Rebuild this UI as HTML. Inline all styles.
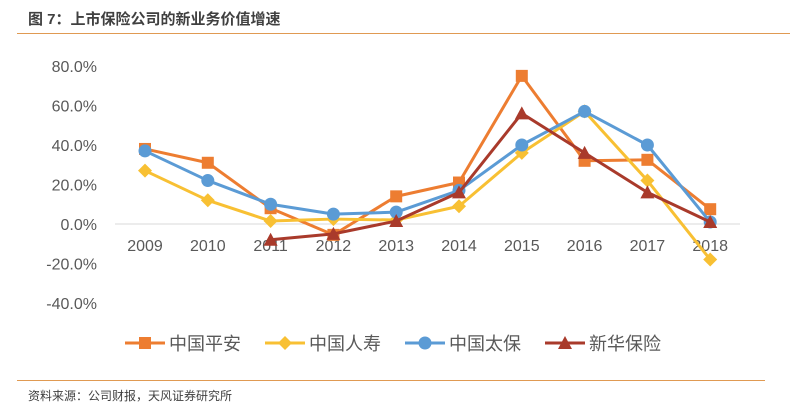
<!DOCTYPE html>
<html><head><meta charset="utf-8"><style>
body{margin:0;width:790px;height:416px;background:#fff;overflow:hidden;font-family:"Liberation Sans","Noto Sans CJK SC",sans-serif}
#title{position:absolute;left:28px;top:8px;font-size:15px;font-weight:bold;color:#404040}
#tline{position:absolute;left:17px;top:33px;width:773px;height:1px;background:#E09A52}
#fline{position:absolute;left:17px;top:380px;width:748px;height:1px;background:#E09A52}
#foot{position:absolute;left:28px;top:387px;font-size:12px;color:#404040}
svg{position:absolute;left:0;top:0}
</style></head><body>
<div id="title">图 7：上市保险公司的新业务价值增速</div>
<div id="tline"></div>
<svg id="chart" width="790" height="416"></svg>
<div id="fline"></div>
<div id="foot">资料来源：公司财报，天风证券研究所</div>
<script>
const years=['2009','2010','2011','2012','2013','2014','2015','2016','2017','2018'];
const yTicks=[80,60,40,20,0,-20,-40];
const pingan=[38,31,8,-5.5,14,21,75,32,32.5,7.5];
const renshou=[27,12,1.5,2.5,2,9,36,57,22,-18];
const taibao=[37,22,10,5,6,17,40,57,40,1];
const xinhua=[null,null,-8,-5,1.5,16,56,36,16,1];
const names=['中国平安','中国人寿','中国太保','新华保险'];
const NS='http://www.w3.org/2000/svg';
const svg=document.getElementById('chart');
const x=i=>145+i*62.8;
const y=v=>224-v*1.975;
function mk(t,a){const e=document.createElementNS(NS,t);for(const k in a)e.setAttribute(k,a[k]);svg.appendChild(e);return e;}
yTicks.forEach(v=>{const t=mk('text',{x:97,y:y(v)+6,'text-anchor':'end','font-size':16,fill:'#595959','font-family':'Liberation Sans'});
t.textContent=v.toFixed(1)+'%';

});
const ax=mk('line',{x1:115,x2:740,y1:y(0),y2:y(0),stroke:'#d9d9d9','stroke-width':1});


years.forEach((yr,i)=>{const t=mk('text',{x:x(i),y:y(0)+27,'text-anchor':'middle','font-size':16,fill:'#595959','font-family':'Liberation Sans'});
t.textContent=yr;

});
function marker(type,cx,cy,c){let e;
if(type==='sq')e=mk('rect',{x:cx-6,y:cy-6,width:12,height:12,fill:c});
else if(type==='di')e=mk('polygon',{points:`${cx},${cy-7} ${cx+7},${cy} ${cx},${cy+7} ${cx-7},${cy}`,fill:c});
else if(type==='ci')e=mk('circle',{cx:cx,cy:cy,r:6.5,fill:c});
else e=mk('polygon',{points:`${cx},${cy-7} ${cx+7},${cy+6} ${cx-7},${cy+6}`,fill:c});
return e;}
const series=[[pingan,'#ED7D31','sq'],[renshou,'#F8C033','di'],[taibao,'#5B9BD5','ci'],[xinhua,'#A93A2B','tr']];
series.forEach(([d,c,m],si)=>{
let pts=[];d.forEach((v,i)=>{if(v!==null)pts.push(x(i)+','+y(v));});
const l=mk('polyline',{points:pts.join(' '),fill:'none',stroke:c,'stroke-width':3,'stroke-linejoin':'round'});


d.forEach((v,i)=>{if(v===null)return;const e=marker(m,x(i),y(v),c);

});
const lx=125+si*140;
const ll=mk('line',{x1:lx,x2:lx+40,y1:343,y2:343,stroke:c,'stroke-width':3});


const lm=marker(m,lx+20,343,c);


const t=mk('text',{x:lx+44,y:350,'font-size':18,fill:'#595959','font-family':'Noto Sans CJK SC, sans-serif'});
t.textContent=names[si];


});
</script>
</body></html>
